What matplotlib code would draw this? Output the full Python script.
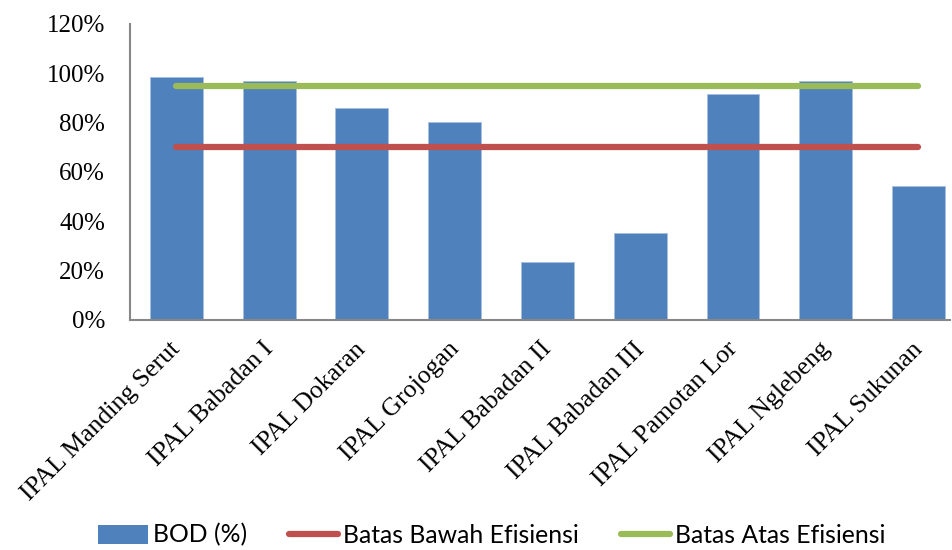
import numpy as np
import matplotlib.pyplot as plt
from matplotlib.ticker import FuncFormatter
from matplotlib.patches import Patch
from matplotlib.lines import Line2D
from matplotlib.transforms import ScaledTranslation

plt.rcParams['font.family'] = 'serif'
plt.rcParams['font.serif'] = ['Liberation Serif', 'DejaVu Serif']

# BOD removal efficiency per IPAL
sites = ['IPAL Manding Serut', 'IPAL Babadan I', 'IPAL Dokaran', 'IPAL Grojogan',
         'IPAL Babadan II', 'IPAL Babadan III', 'IPAL Pamotan Lor', 'IPAL Nglebeng',
         'IPAL Sukunan']
bod = [98.7, 96.9, 86.1, 80.3, 23.5, 35.3, 91.6, 97.0, 54.2]
batas_bawah = [70] * len(sites)
batas_atas = [95] * len(sites)

blue, red, green = '#4f81bd', '#c0504d', '#9bbb59'

fig = plt.figure(figsize=(9.52, 5.5), dpi=100)
ax = fig.add_axes([130 / 952, 1 - 320 / 550, 820 / 952, 296 / 550])

x = np.arange(len(sites))
ax.bar(x, bod, width=0.57, color=blue, edgecolor='#a7c0de', linewidth=0.6, zorder=2)
ax.plot(x, batas_bawah, color=red, linewidth=4.5, solid_capstyle='round', zorder=3)
ax.plot(x, batas_atas, color=green, linewidth=4.5, solid_capstyle='round', zorder=3)

ax.set_xlim(-0.5, 8.34)
ax.set_ylim(0, 120)
ax.set_yticks(np.arange(0, 121, 20))
ax.yaxis.set_major_formatter(FuncFormatter(lambda v, p: '%d%%' % v))
ax.tick_params(axis='y', length=0, pad=18, labelsize=18)

ax.set_xticks(x)
ax.set_xticklabels(sites, rotation=45, ha='right', va='top', rotation_mode='anchor',
                   fontsize=18.5)
ax.tick_params(axis='x', length=0, pad=8)
shift = ScaledTranslation(-0.07, -0.07, fig.dpi_scale_trans)
for lab in ax.get_xticklabels():
    lab.set_transform(lab.get_transform() + shift)

for side in ['top', 'right']:
    ax.spines[side].set_visible(False)
for side in ['left', 'bottom']:
    ax.spines[side].set_color('#878787')
    ax.spines[side].set_linewidth(1.5)

handles = [Patch(facecolor=blue, edgecolor='none'),
           Line2D([], [], color=red, linewidth=4.5, solid_capstyle='round'),
           Line2D([], [], color=green, linewidth=4.5, solid_capstyle='round')]
labels = ['BOD (%)', 'Batas Bawah Efisiensi', 'Batas Atas Efisiensi']
fig.legend(handles, labels, loc='center', bbox_to_anchor=(492 / 952, 1 - 535 / 550),
           ncol=3, frameon=False, prop={'family': 'Lato', 'size': 17.8},
           handlelength=2.0, handleheight=0.8, handletextpad=0.2, columnspacing=1.7)

fig.savefig('out.png', dpi=100)
